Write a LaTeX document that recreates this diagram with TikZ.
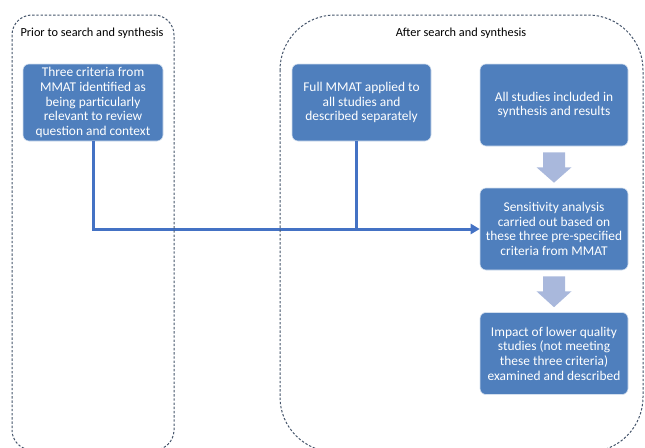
\documentclass[tikz,border=0pt]{standalone}
\usepackage{fontspec}
\setmainfont{Carlito}
\usetikzlibrary{calc,arrows.meta}
\definecolor{boxblue}{HTML}{4F7FBD}
\definecolor{linkblue}{HTML}{4472C4}
\definecolor{paleblue}{HTML}{A9B8DC}
\definecolor{framegrey}{HTML}{44546A}
% block arrow pointing down, between two boxes
\newcommand\blockdown[2]{\fill[paleblue] ($(#1.south)+(-11,6)$) -- ($(#1.south)+(11,6)$) -- ($(#1.south)+(11,21)$) -- ($(#1.south)+(17.5,21)$) -- ($(#2.north)+(0,-5)$) -- ($(#1.south)+(-17.5,21)$) -- ($(#1.south)+(-11,21)$) -- cycle;}
\tikzset{
  stepbox/.style={rectangle, rounded corners=6pt, fill=boxblue, draw=white!75!boxblue, line width=0.6pt,
    text=white, align=center, inner sep=2pt, font=\fontsize{13.4}{14.6}\selectfont},
  groupbox/.style={draw=framegrey, dash pattern=on 2.4pt off 1.8pt, line width=1pt},
  grouptitle/.style={font=\fontsize{12.3}{14}\selectfont, text=black},
  link/.style={draw=linkblue, line width=3pt},
}
\begin{document}
\begin{tikzpicture}[x=1pt,y=-1pt]
			\useasboundingbox (0,0) rectangle (645,447);
			
			%%%%% BOXES %%%%%
			\node[stepbox, minimum width=140pt, minimum height=77pt] (criteria) at (93,102.5)
				{Three criteria from\\MMAT identified as\\being particularly\\relevant to review\\question and context};
			\node[stepbox, minimum width=139pt, minimum height=77pt] (fullmmat) at (361.5,102.5)
				{Full MMAT applied to\\all studies and\\described separately};
			\node[stepbox, minimum width=148pt, minimum height=82pt] (allstudies) at (554,105)
				{All studies included in\\synthesis and results};
			\node[stepbox, minimum width=148pt, minimum height=82pt] (sensitivity) at (554,229)
				{Sensitivity analysis\\carried out based on\\these three pre-specified\\criteria from MMAT};
			\node[stepbox, minimum width=148pt, minimum height=82pt] (impact) at (554,353.5)
				{Impact of lower quality\\studies (not meeting\\these three criteria)\\examined and described};
			
			%%%%% ARROWS %%%%%
			\blockdown{allstudies}{sensitivity}
			\blockdown{sensitivity}{impact}
			
			\draw[link, -{Triangle[length=9pt,width=10pt]}] (criteria.south) |- (sensitivity.west);
			\draw[link] ([xshift=-5pt]fullmmat.south) -- ([xshift=-5pt]fullmmat.south |- sensitivity.west);
			
			%%%%% FRAME %%%%%
			\draw[groupbox, rounded corners=20pt] (12,15) rectangle (174,450);
			\draw[groupbox, rounded corners=55pt] (280,15) rectangle (643,452);
			
			\node[grouptitle] (prior) at (92,33) {Prior to search and synthesis};
			\node[grouptitle] (after) at (461,33) {After search and synthesis};
			
			%%%%% END %%%%%
\end{tikzpicture}
\end{document}
